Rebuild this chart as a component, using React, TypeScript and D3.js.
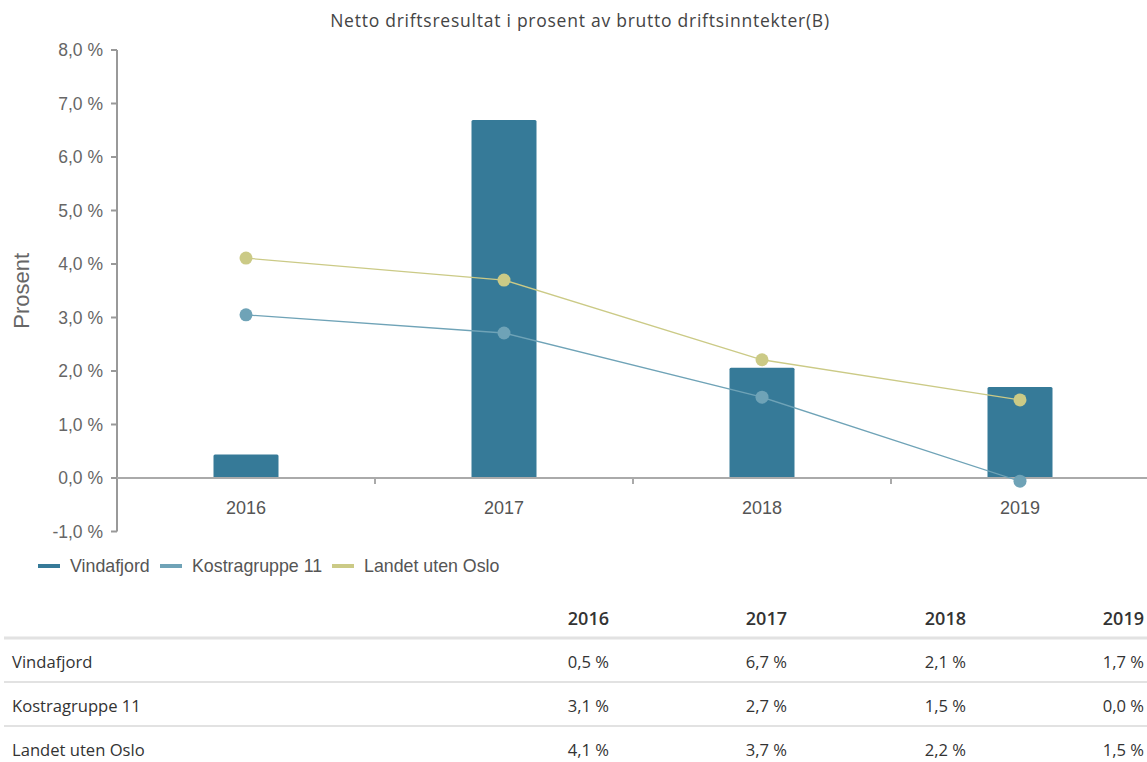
import * as React from 'react'
import * as d3 from 'd3'

const years = ['2016', '2017', '2018', '2019']
const vindafjord = [0.44, 6.69, 2.06, 1.7]
const kostragruppe = [3.05, 2.71, 1.51, -0.06]
const landet = [4.11, 3.7, 2.21, 1.46]
const yTicks = [-1, 0, 1, 2, 3, 4, 5, 6, 7, 8]

// table shows the rounded values
const tableRows = ['Vindafjord', 'Kostragruppe 11', 'Landet uten Oslo']
const tableVindafjord = [0.5, 6.7, 2.1, 1.7]
const tableKostra = [3.1, 2.7, 1.5, 0.0]
const tableLandet = [4.1, 3.7, 2.2, 1.5]

const W = 1147
const H = 762
const BAR = '#367a98'
const KOSTRA = '#6fa3b7'
const LANDET = '#cbca86'
const FONT = 'Arial, "Liberation Sans", sans-serif'
const TFONT = '"Open Sans", sans-serif'

const fmt = (v: number) => `${v.toFixed(1).replace('.', ',')} %`

export default function App() {
  const x = d3.scaleBand<string>().domain(years).range([117, 1149])
  const y = d3.scaleLinear().domain([-1, 8]).range([531.5, 50])
  const bw = 65
  const cx = (d: string) => (x(d) ?? 0) + x.bandwidth() / 2

  const line = d3
    .line<number>()
    .x((_, i) => cx(years[i]))
    .y((v) => y(v))

  const series = [
    { name: 'Kostragruppe 11', values: kostragruppe, color: KOSTRA },
    { name: 'Landet uten Oslo', values: landet, color: LANDET },
  ]

  const legend = [
    { name: 'Vindafjord', color: BAR, x: 38 },
    { name: 'Kostragruppe 11', color: KOSTRA, x: 160 },
    { name: 'Landet uten Oslo', color: LANDET, x: 332 },
  ]

  const tableData = [tableVindafjord, tableKostra, tableLandet]
  const colRight = [609, 787, 966, 1144]
  const headerY = 619
  const rowY = [662, 706, 750]
  const sepY = [638, 682, 726]

  return (
    <svg width={W} height={H} style={{ position: 'absolute', left: 0, top: 0, background: '#fff' }}>
      <text
        x={580}
        y={27}
        textAnchor="middle"
        fontFamily={TFONT}
        fontSize={17.5}
        letterSpacing={0.75}
        fill="#444"
      >
        Netto driftsresultat i prosent av brutto driftsinntekter(B)
      </text>

      {/* y axis */}
      <line x1={117} x2={117} y1={y(8)} y2={y(-1)} stroke="#999" strokeWidth={2} />
      {yTicks.map((t) => (
        <g key={t}>
          <line x1={111} x2={117} y1={y(t)} y2={y(t)} stroke="#999" strokeWidth={2} />
          <text x={103} y={y(t)} dy="0.35em" textAnchor="end" fontFamily={FONT} fontSize={17.5} fill="#666">
            {fmt(t)}
          </text>
        </g>
      ))}
      <text
        transform={`translate(29,${y(3.5)}) rotate(-90)`}
        textAnchor="middle"
        fontFamily={FONT}
        fontSize={22}
        fill="#666"
      >
        Prosent
      </text>

      {/* bars */}
      {years.map((d, i) => (
        <rect
          key={d}
          x={cx(d) - bw / 2}
          y={y(Math.max(0, vindafjord[i]))}
          width={bw}
          height={Math.abs(y(vindafjord[i]) - y(0))}
          fill={BAR}
          rx={1.5}
        />
      ))}

      {/* x axis */}
      <line x1={117} x2={W} y1={y(0)} y2={y(0)} stroke="#aaa" strokeWidth={2} />
      {years.slice(1).map((d) => (
        <line key={d} x1={x(d)} x2={x(d)} y1={y(0)} y2={y(0) + 6} stroke="#aaa" strokeWidth={2} />
      ))}
      {years.map((d) => (
        <text key={d} x={cx(d)} y={514} textAnchor="middle" fontFamily={FONT} fontSize={18} fill="#555">
          {d}
        </text>
      ))}

      {/* lines */}
      {series.map((s) => (
        <g key={s.name}>
          <path d={line(s.values) ?? ''} fill="none" stroke={s.color} strokeWidth={1.3} />
          {s.values.map((v, i) => (
            <circle key={i} cx={cx(years[i])} cy={y(v)} r={6.5} fill={s.color} />
          ))}
        </g>
      ))}

      {/* legend */}
      {legend.map((l) => (
        <g key={l.name}>
          <line x1={l.x} x2={l.x + 22} y1={566} y2={566} stroke={l.color} strokeWidth={4} />
          <text x={l.x + 32} y={566} dy="0.35em" fontFamily={FONT} fontSize={17.8} fill="#555">
            {l.name}
          </text>
        </g>
      ))}

      {/* table */}
      {years.map((d, i) => (
        <text
          key={d}
          x={colRight[i]}
          y={headerY}
          dy="0.35em"
          textAnchor="end"
          fontFamily={TFONT}
          fontSize={18}
          fontWeight={600}
          fill="#333"
        >
          {d}
        </text>
      ))}
      {sepY.map((sy, i) => (
        <line key={sy} x1={4} x2={W} y1={sy} y2={sy} stroke="#e2e2e2" strokeWidth={i === 0 ? 3 : 2} />
      ))}
      {tableRows.map((r, ri) => (
        <g key={r}>
          <text x={12} y={rowY[ri]} dy="0.35em" fontFamily={TFONT} fontSize={16.6} fill="#333">
            {r}
          </text>
          {tableData[ri].map((v, ci) => (
            <text
              key={ci}
              x={colRight[ci]}
              y={rowY[ri]}
              dy="0.35em"
              textAnchor="end"
              fontFamily={TFONT}
              fontSize={16.6}
              fill="#333"
            >
              {fmt(v)}
            </text>
          ))}
        </g>
      ))}
    </svg>
  )
}
